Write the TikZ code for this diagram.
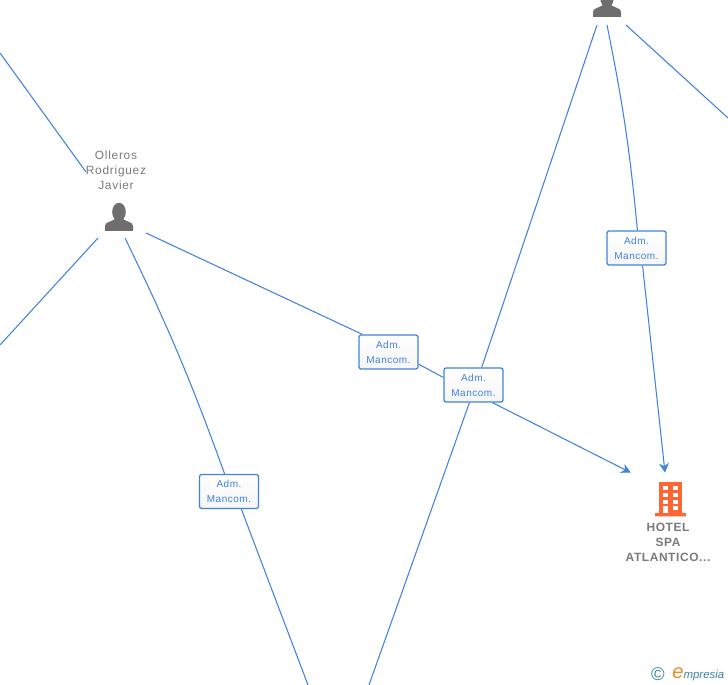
\documentclass[tikz,border=0pt]{standalone}
\usepackage{fontspec}
\setmainfont{Liberation Sans}
\newfontfamily\logofont{Liberation Sans}
\usepackage{xcolor}
\usepackage{tikz}
\usetikzlibrary{arrows.meta}
\definecolor{linkblue}{HTML}{3F82E0}
\definecolor{namegray}{HTML}{7A7A7A}
\definecolor{persongray}{HTML}{6E6E6E}
\definecolor{hotelred}{HTML}{FF6633}
\definecolor{logoblue}{HTML}{3F7F9F}
\definecolor{logoorange}{HTML}{F08A24}
\tikzset{
    role/.style={draw=linkblue, line width=0.7pt, rounded corners=1.2pt, top color=white, bottom color=black!4, text=linkblue,
        minimum width=1.18cm, minimum height=0.68cm, inner sep=0pt, align=center, font=\fontsize{5.7}{8.5}\selectfont\addfontfeature{LetterSpace=5}},
    link/.style={draw=linkblue, line width=0.6pt},
    linkend/.style={link, -{Stealth[length=5.4pt, width=5.6pt]}},
    personname/.style={text=namegray, align=center, inner sep=0pt, font=\fontsize{6.8}{8.5}\selectfont\addfontfeature{LetterSpace=6}},
    hotelname/.style={text=namegray, align=center, inner sep=0pt, font=\fontsize{6.8}{8.5}\selectfont\bfseries\addfontfeature{LetterSpace=5}}
}
\newcommand{\personicon}[2]{
    \fill[persongray, shift={(#1,#2)}] (0,-6) ellipse [x radius=6.8, y radius=9.2];
    \fill[persongray, shift={(#1,#2)}] (-14,13) -- (-14,8) .. controls (-14,4) and (-8,4) .. (-4,1) -- (4,1) .. controls (8,4) and (14,4) .. (14,8) -- (14,13) -- cycle;
}
\newcommand{\hotelicon}[2]{
    \begin{scope}[shift={(#1,#2)}]
        \fill[hotelred] (-12,-17) rectangle (11,14);
        \fill[hotelred, rounded corners=0.4pt] (-16,14) rectangle (15,17.5);
        \foreach \wy in {-13,-6,1} {
            \fill[white] (-8,\wy) rectangle (-3.5,\wy+4);
            \fill[white] (2,\wy) rectangle (7,\wy+4);
        }
        \fill[white] (-8,7) rectangle (-3.5,14);
        \fill[white] (2,7) rectangle (7,11);
    \end{scope}
}

\begin{document}
\begin{tikzpicture}[x=0.02cm, y=-0.02cm]
    \useasboundingbox (0,0) rectangle (728,685);
    \clip (0,0) rectangle (728,685);

    \node[role] (Role1) at (388.5,352) {Adm.\\Mancom.};
    \node[role] (Role2) at (473.5,385) {Adm.\\Mancom.};
    \node[role] (Role3) at (636.5,248) {Adm.\\Mancom.};
    \node[role] (Role4) at (229,491.5) {Adm.\\Mancom.};
    \node[personname] (Olleros) at (116,170) {Olleros\\Rodriguez\\Javier};
    \node[hotelname] (HotelName) at (668,542.5) {HOTEL\\SPA\\ATLANTICO...};
    \node[minimum width=1.44cm, minimum height=0.72cm, inner sep=0pt] (Hotel) at (667,491) {};
    \node[text=logoblue, inner sep=0pt, font=\fontsize{10.5}{11}\selectfont] (LogoC) at (658,674) {\textcopyright};
    \node[anchor=west, inner sep=0pt, font=\logofont\itshape\fontsize{6.5}{8}\selectfont, text=logoblue] (LogoName) at (672,674) {{\color{logoorange}\fontsize{11.5}{12}\selectfont e}mpresia};

    \coordinate (A1) at (146,233);
    \coordinate (A2) at (125,238);
    \coordinate (A3) at (98,238);
    \coordinate (A4) at (86,172);
    \coordinate (B1) at (597,25);
    \coordinate (B2) at (607,25);
    \coordinate (B3) at (626,25);
    \coordinate (C1) at (0,53);
    \coordinate (C2) at (0,345);
    \coordinate (C3) at (728,118);
    \coordinate (C4) at (308,685);
    \coordinate (C5) at (369,685);

    \draw[link] (C1) -- (A4);
    \draw[link] (A3) -- (C2);
    \draw[link] (B3) -- (C3);
    \draw[link] (A1) -- (Role1.146);
    \draw[link] (Role1.-22) -- (Role2.166);
    \draw[linkend] (Role2.-43) -- (Hotel);
    \draw[link] (A2) to[bend left=3] (Role4.104);
    \draw[link] (Role4.-55) -- (C4);
    \draw[link] (B1) -- (Role2.65);
    \draw[link] (Role2.-103) -- (C5);
    \draw[link] (B2) to[bend left=3] (Role3.87);
    \draw[linkend] (Role3.-71) -- (Hotel);

    \personicon{119}{218}
    \personicon{607}{4}
    \hotelicon{671}{499}
\end{tikzpicture}
\end{document}
